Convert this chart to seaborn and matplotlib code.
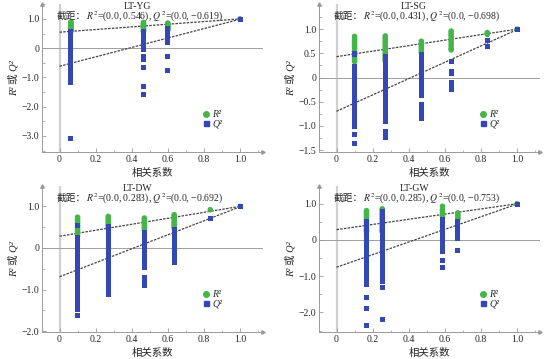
import matplotlib
matplotlib.use('Agg')
import matplotlib.pyplot as plt
from matplotlib.lines import Line2D
from matplotlib.ticker import MultipleLocator
import pandas as pd
import seaborn as sns

#######################################################################################################################
# DATA #
#######################################################################################################################

Titles = ['LT-YG', 'LT-SG', 'LT-DW', 'LT-GW']

# permutation correlation (x) and R2 / Q2 of each permuted model, one list per x column
YG_X = [0.063, 0.465, 0.60, 1.0]
YG_R2 = [[0.90, 0.87, 0.84, 0.81, 0.78, 0.75, 0.72, 0.69, 0.66, 0.63, 0.60, 0.57],
         [0.88, 0.85, 0.82, 0.79, 0.76, 0.73, 0.70, 0.66, 0.62, 0.58, 0.55],
         [0.86, 0.83, 0.80, 0.77, 0.74, 0.70, 0.66, 0.62],
         [1.0]]
YG_Q2 = [[0.56, 0.50, 0.44, 0.38, 0.32, 0.26, 0.20, 0.14, 0.08, 0.02, -0.04, -0.10, -0.16, -0.22, -0.28, -0.34,
          -0.40, -0.46, -0.52, -0.58, -0.64, -0.70, -0.76, -0.82, -0.88, -0.94, -1.00, -1.08, -1.16, -3.10],
         [0.56, 0.50, 0.44, 0.38, 0.32, 0.26, 0.20, 0.14, 0.08, 0.02, -0.05, -0.30, -0.38, -0.65, -1.30, -1.60],
         [0.68, 0.62, 0.56, 0.50, 0.44, 0.36, 0.30, 0.20, -0.30, -0.75],
         [0.99]]
YG_Int = (0.546, -0.619)

SG_X = [0.10, 0.27, 0.47, 0.635, 0.835, 1.0]
SG_R2 = [[0.85, 0.81, 0.77, 0.73, 0.69, 0.65, 0.61, 0.57, 0.53, 0.49, 0.45, 0.41, 0.37, 0.33],
         [0.86, 0.82, 0.78, 0.74, 0.70, 0.66, 0.62, 0.58, 0.54, 0.50, 0.46, 0.42, 0.38, 0.34],
         [0.75, 0.71, 0.67, 0.63, 0.59, 0.55, 0.51],
         [0.96, 0.93, 0.89, 0.85, 0.80, 0.75, 0.70, 0.65, 0.60, 0.57],
         [0.93, 0.91, 0.89],
         [1.0]]
SG_Q2 = [[0.50, 0.47, 0.22, 0.17, 0.12, 0.07, 0.02, -0.03, -0.08, -0.13, -0.18, -0.23, -0.28, -0.33, -0.38, -0.43,
          -0.48, -0.53, -0.58, -0.63, -0.68, -0.73, -0.78, -0.83, -0.88, -0.95, -1.02, -1.17, -1.37],
         [0.43, 0.38, 0.33, 0.28, 0.23, 0.18, 0.13, 0.08, 0.03, -0.02, -0.07, -0.12, -0.17, -0.22, -0.27, -0.32,
          -0.37, -0.42, -0.47, -0.52, -0.57, -0.62, -0.67, -0.72, -0.77, -0.82, -0.90, -1.12, -1.19, -1.25],
         [0.47, 0.42, 0.37, 0.32, 0.27, 0.22, 0.17, 0.12, 0.07, 0.02, -0.03, -0.10, -0.15, -0.20, -0.27, -0.33,
          -0.38, -0.55, -0.60, -0.67, -0.74, -0.80, -0.85],
         [0.33, 0.13, 0.08, -0.11, -0.18, -0.25],
         [0.76, 0.65],
         [0.99]]
SG_Int = (0.431, -0.698)

DW_X = [0.10, 0.27, 0.47, 0.635, 0.835, 1.0]
DW_R2 = [[0.74, 0.70, 0.66, 0.62, 0.58, 0.54, 0.50, 0.46, 0.42, 0.38, 0.34, 0.30],
         [0.76, 0.72, 0.68, 0.64, 0.60, 0.56, 0.52, 0.48],
         [0.72, 0.68, 0.64, 0.60, 0.56, 0.52, 0.48, 0.44],
         [0.80, 0.76, 0.72, 0.68, 0.64, 0.60, 0.56, 0.52, 0.48],
         [0.92],
         [1.0]]
DW_Q2 = [[0.53, 0.24, 0.18, 0.12, 0.06, 0.00, -0.06, -0.12, -0.18, -0.24, -0.30, -0.36, -0.42, -0.48, -0.54,
          -0.60, -0.66, -0.72, -0.78, -0.84, -0.90, -0.96, -1.02, -1.08, -1.14, -1.20, -1.26, -1.32, -1.38, -1.44,
          -1.48, -1.63],
         [0.52, 0.46, 0.40, 0.34, 0.28, 0.22, 0.16, 0.10, 0.04, -0.02, -0.08, -0.14, -0.20, -0.26, -0.32, -0.38,
          -0.44, -0.50, -0.56, -0.62, -0.68, -0.74, -0.80, -0.86, -0.92, -0.97, -1.10, -1.13],
         [0.36, 0.30, 0.24, 0.18, 0.12, 0.06, 0.00, -0.06, -0.12, -0.17, -0.28, -0.40, -0.48, -0.72, -0.78, -0.84, -0.90],
         [0.44, 0.36, 0.30, 0.24, 0.18, 0.10, 0.02, -0.08, -0.18, -0.26, -0.32, -0.36],
         [0.72],
         [0.99]]
DW_Int = (0.283, -0.692)

GW_X = [0.166, 0.253, 0.587, 0.672, 1.0]
GW_R2 = [[0.81, 0.76, 0.71, 0.66, 0.61, 0.56, 0.51, 0.46, 0.41, 0.36, 0.31, 0.26, 0.23],
         [0.86, 0.81, 0.76, 0.71, 0.66, 0.61, 0.56, 0.51, 0.46, 0.41, 0.36, 0.31, 0.26, 0.23],
         [0.93, 0.84, 0.79, 0.74, 0.69, 0.65],
         [0.75, 0.70, 0.65, 0.60, 0.56],
         [1.0]]
GW_Q2 = [[0.50, 0.44, 0.38, 0.32, 0.26, 0.20, 0.14, 0.08, 0.02, -0.04, -0.10, -0.16, -0.22, -0.28, -0.34, -0.40,
          -0.46, -0.52, -0.58, -0.64, -0.70, -0.76, -0.82, -0.88, -0.94, -1.00, -1.06, -1.12, -1.18, -1.24, -1.58,
          -1.90, -2.35],
         [0.78, 0.72, 0.66, 0.60, 0.54, 0.48, 0.42, 0.36, 0.30, 0.24, 0.18, 0.12, 0.06, 0.00, -0.06, -0.12, -0.18,
          -0.24, -0.30, -0.36, -0.42, -0.48, -0.54, -0.60, -0.66, -0.72, -0.78, -0.84, -0.90, -0.96, -1.02, -1.08,
          -1.14, -1.30, -2.19],
         [0.56, 0.50, 0.44, 0.38, 0.32, 0.26, 0.20, 0.14, 0.08, 0.02, -0.04, -0.10, -0.16, -0.22, -0.28, -0.32,
          -0.57, -0.77],
         [0.51, 0.45, 0.39, 0.33, 0.27, 0.21, 0.15, 0.09, 0.03, -0.30],
         [0.99]]
GW_Int = (0.285, -0.753)

X_Ticks = [0, 0.2, 0.4, 0.6, 0.8, 1.0]
X_Tick_Labels = ['0', '0.2', '0.4', '0.6', '0.8', '1.0']
YG_Y_Ticks = [-3.0, -2.0, -1.0, 0, 1.0]
SG_Y_Ticks = [-1.5, -1.0, -0.5, 0, 0.5, 1.0]
DW_Y_Ticks = [-2.0, -1.0, 0, 1.0]
GW_Y_Ticks = [-2.0, -1.0, 0, 1.0]

#######################################################################################################################
# STYLE #
#######################################################################################################################

sns.set_theme(style='white')
plt.rcParams['font.family'] = ['Liberation Serif', 'Noto Sans CJK SC']
plt.rcParams['mathtext.fontset'] = 'stix'
plt.rcParams['axes.unicode_minus'] = True

Green = '#45b549'
Blue = '#3347b5'
Axis_Color = '#9a9a9a'
Font_Size = 7


def Build_Frame(X, R2, Q2):
    Rows = []
    for Xv, R_List, Q_List in zip(X, R2, Q2):
        for V in R_List:
            Rows.append({'x': Xv, 'y': V, 'kind': 'R2'})
        for V in Q_List:
            Rows.append({'x': Xv, 'y': V, 'kind': 'Q2'})
    return pd.DataFrame(Rows)


def Fmt(V):
    if V == 0:
        return '0'
    return ('%.1f' % V).replace('-', '\u2212')


def Fmt3(V):
    return ('%.3f' % V).replace('-', '\u2212')


def Draw_Panel(Axis, Title, X, R2, Q2, Intercepts, Y_Ticks, Y_Lim, Y_Minor):
    Data = Build_Frame(X, R2, Q2)
    Axis.axvline(0, color='#d0d0d0', lw=1.6, zorder=0)
    Axis.axhline(0, color='#a0a0a0', lw=0.7, zorder=0)

    # regression lines from intercept to original model
    Axis.plot([0, X[-1]], [Intercepts[0], R2[-1][0]], ls=(0, (2, 1)), color='#444444', lw=0.9, zorder=1)
    Axis.plot([0, X[-1]], [Intercepts[1], Q2[-1][0]], ls=(0, (2, 1)), color='#444444', lw=0.9, zorder=1)

    sns.scatterplot(data=Data[Data['kind'] == 'R2'], x='x', y='y', ax=Axis, color=Green, marker='o',
                    s=16, edgecolor='none', legend=False, zorder=2)
    sns.scatterplot(data=Data[Data['kind'] == 'Q2'], x='x', y='y', ax=Axis, color=Blue, marker='s',
                    s=13, edgecolor='none', legend=False, zorder=3)

    Axis.set_xlim(-0.097, 1.127)
    Axis.set_ylim(*Y_Lim)
    Axis.set_xticks(X_Ticks)
    Axis.set_xticklabels(X_Tick_Labels)
    Axis.set_yticks(Y_Ticks)
    Axis.set_yticklabels([Fmt(V) for V in Y_Ticks])
    Axis.xaxis.set_minor_locator(MultipleLocator(0.1))
    Axis.yaxis.set_minor_locator(MultipleLocator(Y_Minor))
    Axis.tick_params(axis='both', which='major', direction='in', length=3, width=0.6, color=Axis_Color,
                     labelsize=Font_Size, pad=2, bottom=True, left=True)
    Axis.tick_params(axis='both', which='minor', direction='in', length=1.8, width=0.5, color=Axis_Color,
                     bottom=True, left=True)
    for Side in ['top', 'right']:
        Axis.spines[Side].set_visible(False)
    for Side in ['left', 'bottom']:
        Axis.spines[Side].set_color(Axis_Color)
        Axis.spines[Side].set_linewidth(0.7)
    Axis.plot(1, 0, marker='>', color=Axis_Color, ms=2.5, transform=Axis.transAxes, clip_on=False)
    Axis.plot(0, 1, marker='^', color=Axis_Color, ms=2.5, transform=Axis.transAxes, clip_on=False)

    Axis.set_xlabel('相关系数', fontsize=Font_Size + 0.5, labelpad=3)
    Axis.set_ylabel('R² 或 Q²', fontsize=Font_Size + 0.5, labelpad=2, fontstyle='italic')
    Axis.text(0.43, 0.985, Title, transform=Axis.transAxes, ha='center', va='center', fontsize=Font_Size)
    Axis.text(0.197, 0.915, '截距：', transform=Axis.transAxes, ha='right', va='center', fontsize=Font_Size)
    Axis.text(0.197, 0.915, '$R^2$=(0.0, %.3f), $Q^2$=(0.0, %s)' % (Intercepts[0], Fmt3(Intercepts[1])),
              transform=Axis.transAxes, ha='left', va='center', fontsize=Font_Size)

    Handles = [Line2D([], [], ls='', marker='o', color=Green, ms=4, label='R²'),
               Line2D([], [], ls='', marker='s', color=Blue, ms=3.6, label='Q²')]
    Axis.legend(handles=Handles, loc='lower left', bbox_to_anchor=(0.69, 0.115), frameon=False,
                prop={'size': Font_Size, 'style': 'italic'}, handletextpad=0.1, labelspacing=0.05,
                borderpad=0.2, handlelength=1.0, handleheight=0.5)


#######################################################################################################################
# FIGURE #
#######################################################################################################################

Figure = plt.figure(figsize=(5.54, 3.59), dpi=100)
Axis_1 = Figure.add_axes([0.0758, 0.5766, 0.3989, 0.4123])
Axis_2 = Figure.add_axes([0.5758, 0.5766, 0.3989, 0.4123])
Axis_3 = Figure.add_axes([0.0758, 0.0752, 0.3989, 0.4067])
Axis_4 = Figure.add_axes([0.5758, 0.0752, 0.3989, 0.4067])

Draw_Panel(Axis_1, Titles[0], YG_X, YG_R2, YG_Q2, YG_Int, YG_Y_Ticks, (-3.55, 1.51), 0.5)
Draw_Panel(Axis_2, Titles[1], SG_X, SG_R2, SG_Q2, SG_Int, SG_Y_Ticks, (-1.54, 1.52), 0.25)
Draw_Panel(Axis_3, Titles[2], DW_X, DW_R2, DW_Q2, DW_Int, DW_Y_Ticks, (-2.02, 1.49), 0.5)
Draw_Panel(Axis_4, Titles[3], GW_X, GW_R2, GW_Q2, GW_Int, GW_Y_Ticks, (-2.54, 1.49), 0.5)

Figure.savefig('out.png', dpi=100, facecolor='white')
